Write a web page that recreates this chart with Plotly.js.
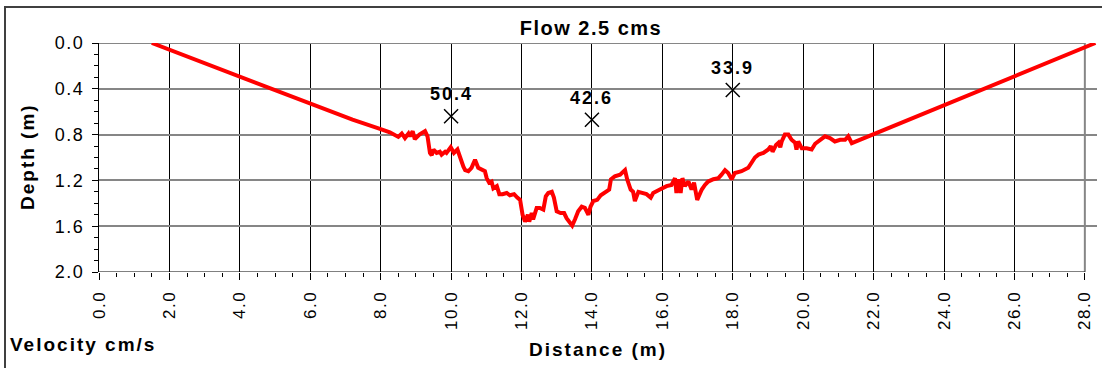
<!DOCTYPE html>
<html>
<head>
<meta charset="utf-8">
<script src="https://cdn.plot.ly/plotly-3.0.1.min.js"></script>
<style>
  html, body { margin: 0; padding: 0; background: #fff; }
  #chart { width: 1102px; height: 368px; }
  .gtitle { letter-spacing: 1.5px; }
  .annotation-text { letter-spacing: 2px; }
  .xtick text, .ytick text { letter-spacing: 1.5px; }
</style>
</head>
<body>
<div id="chart"></div>
<script>
// Bed profile: distance across section (m) and depth (m)
const distance = [1.5, 7.2, 7.98, 8.26, 8.50, 8.60, 8.69, 8.79, 8.83, 8.91, 8.97, 9.10, 9.26, 9.33, 9.40, 9.45, 9.50, 9.59, 9.68, 9.73, 9.83, 9.87, 9.99, 10.08, 10.18, 10.25, 10.35, 10.40, 10.49, 10.58, 10.68, 10.77, 10.87, 10.96, 11.01, 11.08, 11.15, 11.20, 11.30, 11.37, 11.46, 11.58, 11.67, 11.79, 11.88, 11.96, 12.03, 12.10, 12.18, 12.22, 12.29, 12.33, 12.43, 12.52, 12.62, 12.69, 12.76, 12.86, 12.92, 13.00, 13.11, 13.21, 13.28, 13.38, 13.44, 13.52, 13.61, 13.71, 13.80, 13.90, 13.96, 14.04, 14.15, 14.25, 14.37, 14.49, 14.54, 14.65, 14.80, 14.89, 14.94, 15.00, 15.10, 15.17, 15.22, 15.32, 15.41, 15.55, 15.67, 15.74, 15.93, 16.12, 16.26, 16.36, 16.40, 16.45, 16.52, 16.57, 16.64, 16.74, 16.83, 16.90, 16.99, 17.12, 17.21, 17.30, 17.45, 17.59, 17.68, 17.78, 17.87, 17.97, 18.06, 18.25, 18.44, 18.54, 18.63, 18.73, 18.87, 19.01, 19.08, 19.13, 19.23, 19.30, 19.35, 19.39, 19.48, 19.58, 19.67, 19.77, 19.81, 19.86, 19.96, 20.10, 20.19, 20.24, 20.34, 20.48, 20.62, 20.76, 20.90, 21.05, 21.19, 21.28, 21.38, 28.3];
const depth = [0.0, 0.67, 0.75, 0.78, 0.82, 0.79, 0.83, 0.79, 0.815, 0.77, 0.84, 0.80, 0.77, 0.815, 0.96, 0.98, 0.93, 0.96, 0.95, 0.975, 0.95, 0.96, 0.91, 0.96, 0.93, 1.00, 1.08, 1.11, 1.12, 1.09, 1.02, 1.09, 1.11, 1.12, 1.18, 1.22, 1.21, 1.27, 1.25, 1.32, 1.32, 1.31, 1.33, 1.32, 1.35, 1.37, 1.50, 1.56, 1.50, 1.56, 1.485, 1.54, 1.44, 1.44, 1.455, 1.34, 1.31, 1.30, 1.35, 1.47, 1.485, 1.485, 1.53, 1.57, 1.595, 1.54, 1.47, 1.43, 1.44, 1.50, 1.43, 1.38, 1.37, 1.33, 1.30, 1.28, 1.19, 1.165, 1.15, 1.13, 1.11, 1.19, 1.28, 1.30, 1.38, 1.30, 1.31, 1.32, 1.35, 1.31, 1.28, 1.25, 1.24, 1.18, 1.31, 1.19, 1.31, 1.18, 1.25, 1.21, 1.28, 1.22, 1.37, 1.28, 1.24, 1.21, 1.19, 1.18, 1.15, 1.11, 1.135, 1.19, 1.135, 1.12, 1.09, 1.05, 1.00, 0.975, 0.96, 0.93, 0.90, 0.95, 0.89, 0.87, 0.91, 0.86, 0.80, 0.80, 0.845, 0.87, 0.93, 0.86, 0.92, 0.92, 0.93, 0.93, 0.88, 0.845, 0.815, 0.83, 0.86, 0.845, 0.845, 0.815, 0.875, 0.0];

// Velocity measurement points
const velDistance = [10.0, 14.0, 18.0];
const velDepth = [0.64, 0.67, 0.41];
const velLabels = ['50.4', '42.6', '33.9'];

// Axis ticks
const xTicks = [0, 2, 4, 6, 8, 10, 12, 14, 16, 18, 20, 22, 24, 26, 28];
const xTickLabels = ['0.0', '2.0', '4.0', '6.0', '8.0', '10.0', '12.0', '14.0', '16.0', '18.0', '20.0', '22.0', '24.0', '26.0', '28.0'];
const yTicks = [0, 0.4, 0.8, 1.2, 1.6, 2.0];
const yTickLabels = ['0.0', '0.4', '0.8', '1.2', '1.6', '2.0'];

const FONT = 'Liberation Sans, Arial, sans-serif';
const W = 1102, H = 368, L = 99, R = 5, T = 43, B = 96;
const PW = W - L - R, PH = H - T - B;
const px = v => (v - L) / PW;          // pixel x -> paper x
const py = v => (H - B - v) / PH;      // pixel y -> paper y
const xMax = 28.345;

const traces = [
  {
    x: distance, y: depth, type: 'scatter', mode: 'lines',
    line: { color: '#ff0000', width: 4 }, hoverinfo: 'skip', showlegend: false
  },
  {
    x: velDistance, y: velDepth, type: 'scatter', mode: 'markers',
    marker: { symbol: 'x-thin', size: 14, color: '#000', line: { color: '#000', width: 1.5 } },
    cliponaxis: false, hoverinfo: 'skip', showlegend: false
  }
];

const velAnnotations = velDistance.map((d, i) => ({
  text: '<b>' + velLabels[i] + '</b>', xref: 'x', yref: 'y', x: d, y: velDepth[i],
  xanchor: 'center', yanchor: 'middle', yshift: 22, showarrow: false,
  font: { family: FONT, size: 18, color: '#000' }
}));

const layout = {
  width: W, height: H,
  margin: { l: L, r: R, t: T, b: B, pad: 0 },
  paper_bgcolor: '#ffffff', plot_bgcolor: '#ffffff',
  font: { family: FONT, color: '#000' },
  showlegend: false,
  title: {
    text: '<b>Flow 2.5 cms</b>', font: { family: FONT, size: 20, color: '#000' },
    xref: 'paper', x: px(591), xanchor: 'center',
    yref: 'container', y: 1 - 28 / H, yanchor: 'middle'
  },
  xaxis: {
    range: [0, xMax], tickmode: 'array', tickvals: xTicks, ticktext: xTickLabels,
    tickangle: -90, tickfont: { family: FONT, size: 17, color: '#000' },
    ticks: 'outside', ticklen: 7, tickwidth: 1, tickcolor: '#000',
    showgrid: true, gridcolor: '#000', gridwidth: 1,
    showline: false, zeroline: false, ticklabelstandoff: 4,
    minor: { dtick: 0.5, tick0: 0, ticks: 'outside', ticklen: 4, tickcolor: '#000', showgrid: false }
  },
  yaxis: {
    range: [2.0, 0.0], tickmode: 'array', tickvals: yTicks, ticktext: yTickLabels,
    tickfont: { family: FONT, size: 18, color: '#000' },
    ticks: 'outside', ticklen: 6, tickwidth: 1, tickcolor: '#000',
    showgrid: true, gridcolor: '#868686', gridwidth: 2,
    showline: true, linecolor: '#000', linewidth: 1, zeroline: false, ticklabelstandoff: 4,
    minor: { dtick: 0.1, tick0: 0, ticks: 'outside', ticklen: 4, tickcolor: '#000', showgrid: false }
  },
  shapes: [
    // cover grid beyond the 28.0 edge
    { type: 'rect', xref: 'x', yref: 'paper', x0: 28, x1: xMax + 0.1, y0: -0.01, y1: 1.01,
      fillcolor: '#ffffff', line: { width: 0 }, layer: 'between' },
    // plot area border: top and right (grey)
    { type: 'line', xref: 'x', yref: 'y', x0: 0, x1: 28, y0: 0, y1: 0,
      line: { color: '#868686', width: 2 }, layer: 'between' },
    { type: 'line', xref: 'x', yref: 'y', x0: 28, x1: 28, y0: 0, y1: 2,
      line: { color: '#868686', width: 2 }, layer: 'between' },
    // x axis line
    { type: 'line', xref: 'x', yref: 'y', x0: 0, x1: 28, y0: 2, y1: 2,
      line: { color: '#000', width: 1 }, layer: 'above' },
    // outer chart border
    { type: 'rect', xref: 'paper', yref: 'paper', x0: px(5), x1: px(1110), y0: py(380), y1: py(7),
      fillcolor: 'rgba(0,0,0,0)', line: { color: '#404040', width: 2 }, layer: 'above' }
  ],
  annotations: velAnnotations.concat([
    { text: '<b>Depth (m)</b>', xref: 'paper', yref: 'paper', x: px(27), y: py(157),
      xanchor: 'center', yanchor: 'middle', textangle: -90, showarrow: false,
      font: { family: FONT, size: 19, color: '#000' } },
    { text: '<b>Distance (m)</b>', xref: 'paper', yref: 'paper', x: px(598), y: py(349),
      xanchor: 'center', yanchor: 'middle', showarrow: false,
      font: { family: FONT, size: 19, color: '#000' } },
    { text: '<b>Velocity cm/s</b>', xref: 'paper', yref: 'paper', x: px(8), y: py(344),
      xanchor: 'left', yanchor: 'middle', showarrow: false,
      font: { family: FONT, size: 19, color: '#000' } }
  ])
};

Plotly.newPlot('chart', traces, layout, { displayModeBar: false, staticPlot: true });
</script>
</body>
</html>
